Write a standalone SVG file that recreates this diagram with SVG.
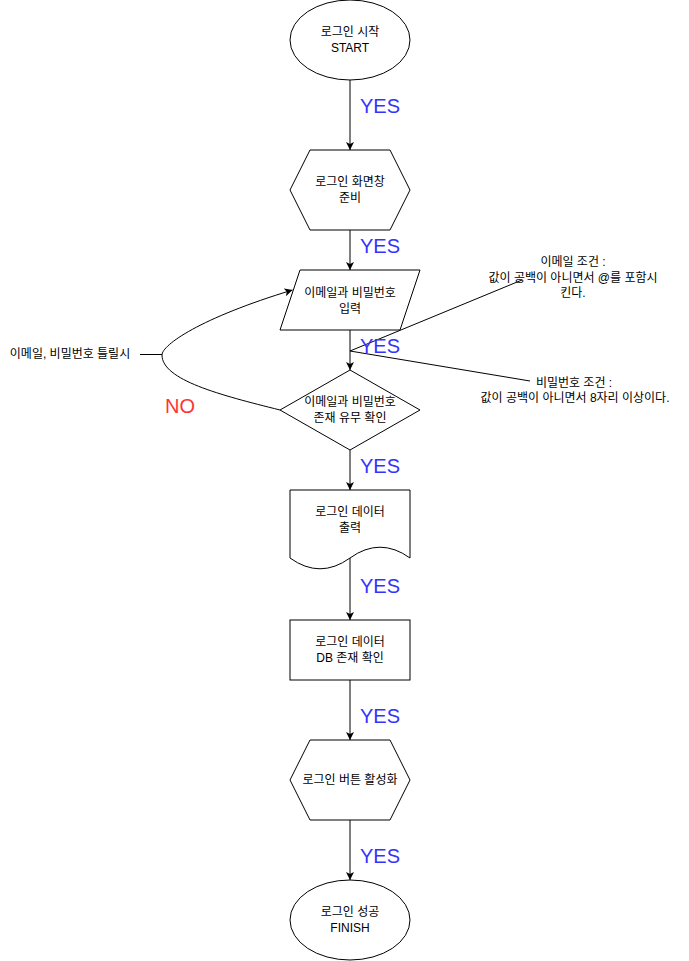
<svg xmlns="http://www.w3.org/2000/svg" width="689" height="961" viewBox="0 0 689 961">
<defs>
<marker id="arr" markerUnits="userSpaceOnUse" markerWidth="10" markerHeight="10" refX="8" refY="4" orient="auto">
<path d="M0,0 L8,4 L0,8 L2,4 Z" fill="#000"/>
</marker>
<style>
.n{fill:#fff;stroke:#000;stroke-width:1}
.t{font-family:"Liberation Sans","Noto Sans CJK KR",sans-serif;font-size:12px;fill:#000;text-anchor:middle}
.y{font-family:"Liberation Sans","Noto Sans CJK KR",sans-serif;font-size:20px;fill:#3333FF}
.no{font-family:"Liberation Sans","Noto Sans CJK KR",sans-serif;font-size:20px;fill:#FF3333}
.e{fill:none;stroke:#000;stroke-width:1}
.ea{fill:none;stroke:#000;stroke-width:1;marker-end:url(#arr)}
</style>
</defs>
<rect width="689" height="961" fill="#fff"/>
<g id="connectors">
<line class="ea" x1="350" y1="80" x2="350" y2="150"/>
<line class="ea" x1="350" y1="230" x2="350" y2="270"/>
<line class="ea" x1="350" y1="330" x2="350" y2="370"/>
<line class="ea" x1="350" y1="450" x2="350" y2="490"/>
<line class="ea" x1="350" y1="558" x2="350" y2="620"/>
<line class="ea" x1="350" y1="680" x2="350" y2="740"/>
<line class="ea" x1="350" y1="820" x2="350" y2="880"/>
<path class="ea" d="M280,410 C220,395 162,380 162,355 C162,345 200,318 292.5,290"/>
<line class="e" x1="140" y1="354.5" x2="162" y2="354.5"/>
<line class="e" x1="350" y1="351" x2="522" y2="280"/>
<line class="e" x1="350" y1="351" x2="530" y2="381"/>
</g>
<g id="labels">
<text class="y" x="360" y="113">YES</text>
<text class="y" x="360" y="253">YES</text>
<text class="y" x="360" y="353">YES</text>
<text class="y" x="360" y="473">YES</text>
<text class="y" x="360" y="593">YES</text>
<text class="y" x="360" y="723">YES</text>
<text class="y" x="360" y="863">YES</text>
<text class="no" x="165" y="413">NO</text>
</g>
<g id="start">
<ellipse class="n" cx="350" cy="40" rx="60" ry="40"/>
<text class="t" x="350" y="36">로그인 시작</text>
<text class="t" x="350" y="52">START</text>
</g>
<g id="prepare">
<polygon class="n" points="310,150 390,150 410,190 390,230 310,230 290,190"/>
<text class="t" x="350" y="186">로그인 화면창</text>
<text class="t" x="350" y="202">준비</text>
</g>
<g id="input">
<polygon class="n" points="300,270 420,270 400,330 280,330"/>
<text class="t" x="350" y="297">이메일과 비밀번호</text>
<text class="t" x="350" y="313">입력</text>
</g>
<g id="check">
<polygon class="n" points="350,370 420,410 350,450 280,410"/>
<text class="t" x="350" y="406">이메일과 비밀번호</text>
<text class="t" x="350" y="422">존재 유무 확인</text>
</g>
<g id="output">
<path class="n" d="M290,490 L410,490 L410,558 Q380,536.4 350,558 Q320,579.6 290,558 Z"/>
<text class="t" x="350" y="516">로그인 데이터</text>
<text class="t" x="350" y="532">출력</text>
</g>
<g id="dbcheck">
<rect class="n" x="290" y="620" width="120" height="60"/>
<text class="t" x="350" y="646">로그인 데이터</text>
<text class="t" x="350" y="662">DB 존재 확인</text>
</g>
<g id="activate">
<polygon class="n" points="310,740 390,740 410,780 390,820 310,820 290,780"/>
<text class="t" x="350" y="784">로그인 버튼 활성화</text>
</g>
<g id="finish">
<ellipse class="n" cx="350" cy="920" rx="60" ry="40"/>
<text class="t" x="350" y="916">로그인 성공</text>
<text class="t" x="350" y="932">FINISH</text>
</g>
<g id="note-email">
<text class="t" x="573" y="266">이메일 조건 :</text>
<text class="t" x="573" y="282">값이 공백이 아니면서 @를 포함시</text>
<text class="t" x="573" y="297">킨다.</text>
</g>
<g id="note-pw">
<text class="t" x="574" y="387">비밀번호 조건 :</text>
<text class="t" x="575" y="402">값이 공백이 아니면서 8자리 이상이다.</text>
</g>
<g id="note-wrong">
<text class="t" x="70" y="358">이메일, 비밀번호 틀릴시</text>
</g>
</svg>
